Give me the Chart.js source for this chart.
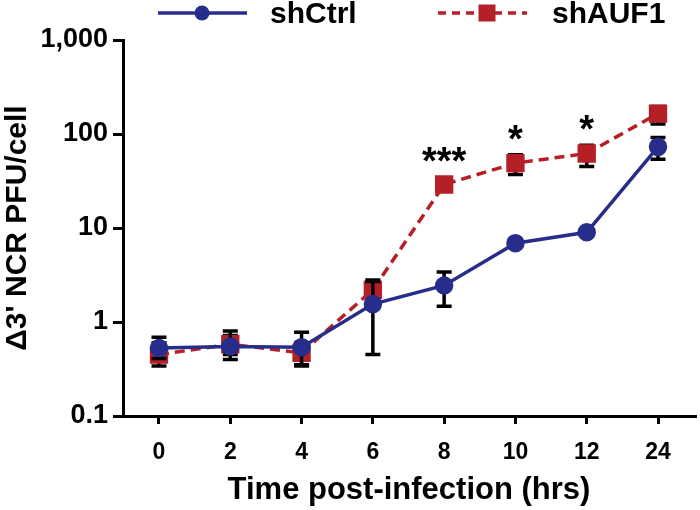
<!DOCTYPE html>
<html>
<head>
<meta charset="utf-8">
<script src="https://cdn.jsdelivr.net/npm/chart.js@4"></script>
<style>
html,body{margin:0;padding:0;background:#fff;}
#wrap{width:700px;height:510px;}
</style>
</head>
<body>
<div id="wrap"><canvas id="c" width="700" height="510"></canvas></div>
<script>
// ---- data ----
const xLabels = ["0", "2", "4", "6", "8", "10", "12", "24"];
const yTickValues = [0.1, 1, 10, 100, 1000];
const yTickLabels = ["0.1", "1", "10", "100", "1,000"];

const ctrlLabel = "shCtrl";
const ctrlValues = [0.53, 0.55, 0.54, 1.55, 2.45, 6.9, 9.0, 73];
const ctrlHigh   = [0.69, 0.80, 0.78, 2.7, 3.4, 7.4, 9.6, 92];
const ctrlLow    = [0.41, 0.40, 0.34, 0.45, 1.47, 6.4, 8.4, 54];

const aufLabel = "shAUF1";
const aufValues = [0.45, 0.58, 0.47, 2.2, 29, 49, 62, 165];
const aufHigh   = [0.60, 0.72, 0.60, 2.8, 30, 60, 76, 196];
const aufLow    = [0.34, 0.45, 0.35, 1.7, 28, 37, 45, 128];

const significance = ["", "", "", "", "***", "*", "*", ""];

// ---- styles ----
const BLUE = "#272d8a";
const RED = "#b52027";
const FONT = "'Liberation Sans', Arial, sans-serif";

const toXY = vals => vals.map((v, i) => ({x: i, y: v}));

const errorBars = {
  id: "errorBars",
  beforeDatasetDraw(chart, args) {
    const ds = chart.data.datasets[args.index];
    if (!ds.errHigh) return;
    const {ctx, scales: {x, y}} = chart;
    ctx.save();
    ctx.strokeStyle = "#000";
    ctx.lineWidth = 3.5;
    ctx.lineCap = "butt";
    const cap = 7.5;
    ds.data.forEach((p, i) => {
      const px = x.getPixelForValue(p.x);
      const yh = y.getPixelForValue(ds.errHigh[i]);
      const yl = y.getPixelForValue(ds.errLow[i]);
      ctx.beginPath();
      ctx.moveTo(px, yh); ctx.lineTo(px, yl);
      ctx.moveTo(px - cap, yh); ctx.lineTo(px + cap, yh);
      ctx.moveTo(px - cap, yl); ctx.lineTo(px + cap, yl);
      ctx.stroke();
    });
    ctx.restore();
  }
};

const sigMarks = {
  id: "sigMarks",
  afterDatasetsDraw(chart) {
    const {ctx, scales: {x, y}} = chart;
    ctx.save();
    ctx.fillStyle = "#000";
    ctx.font = "bold 38px " + FONT;
    ctx.textAlign = "center";
    ctx.textBaseline = "alphabetic";
    significance.forEach((s, i) => {
      if (!s) return;
      const px = x.getPixelForValue(i);
      const top = Math.min(y.getPixelForValue(aufHigh[i]), y.getPixelForValue(aufValues[i]) - 8);
      ctx.fillText(s, px, top - 3);
    });
    ctx.restore();
  }
};

const customLegend = {
  id: "customLegend",
  afterDraw(chart) {
    const {ctx} = chart;
    const d0 = chart.data.datasets[0];
    const d1 = chart.data.datasets[1];
    const ly = 13;
    ctx.save();
    ctx.strokeStyle = d0.borderColor; ctx.lineWidth = 3.5;
    ctx.beginPath(); ctx.moveTo(158, ly); ctx.lineTo(247, ly); ctx.stroke();
    ctx.fillStyle = d0.pointBackgroundColor;
    ctx.beginPath(); ctx.arc(202, ly, 7.5, 0, Math.PI * 2); ctx.fill();
    ctx.strokeStyle = d1.borderColor; ctx.lineWidth = 3.5;
    ctx.setLineDash([8, 6]);
    ctx.beginPath(); ctx.moveTo(438, ly); ctx.lineTo(527, ly); ctx.stroke();
    ctx.setLineDash([]);
    ctx.fillStyle = d1.pointBackgroundColor;
    ctx.fillRect(487 - 8.5, ly - 8.5, 17, 17);
    ctx.fillStyle = "#000";
    ctx.font = "bold 30px " + FONT;
    ctx.textAlign = "left";
    ctx.textBaseline = "middle";
    ctx.fillText(d0.label, 270, ly + 2);
    ctx.fillText(d1.label, 552, ly + 2);
    ctx.restore();
  }
};

new Chart(document.getElementById("c"), {
  type: "line",
  data: {
    datasets: [
      {
        label: ctrlLabel,
        data: toXY(ctrlValues),
        errHigh: ctrlHigh, errLow: ctrlLow,
        borderColor: BLUE, backgroundColor: BLUE,
        pointBackgroundColor: BLUE, pointBorderColor: BLUE,
        borderWidth: 3.5, pointRadius: 7.5, pointStyle: "circle",
        tension: 0, fill: false
      },
      {
        label: aufLabel,
        data: toXY(aufValues),
        errHigh: aufHigh, errLow: aufLow,
        borderColor: RED, backgroundColor: RED,
        pointBackgroundColor: RED, pointBorderColor: RED,
        borderWidth: 3.5, borderDash: [10, 6],
        pointRadius: 10.5, pointStyle: "rect",
        tension: 0, fill: false
      }
    ]
  },
  options: {
    responsive: false,
    animation: false,
    devicePixelRatio: 1,
    clip: false,
    layout: {autoPadding: false, padding: {top: 40, right: 5, bottom: 0, left: 0}},
    plugins: {legend: {display: false}, tooltip: {enabled: false}},
    elements: {line: {borderCapStyle: "butt"}},
    scales: {
      x: {
        type: "linear",
        min: -0.505,
        max: 7.519,
        afterBuildTicks: s => { s.ticks = xLabels.map((l, i) => ({value: i})); },
        afterFit: s => { s.height = 94; s.paddingLeft = 0; s.paddingRight = 0; },
        grid: {drawOnChartArea: false, drawTicks: true, tickLength: 8, color: "#000", lineWidth: 3},
        border: {display: true, color: "#000", width: 3},
        ticks: {
          callback: (v, i) => xLabels[i],
          color: "#000",
          font: {family: FONT, size: 23, weight: "bold"},
          padding: 15,
          maxRotation: 0,
          autoSkip: false
        },
        title: {
          display: true,
          text: "Time post-infection (hrs)",
          color: "#000",
          font: {family: FONT, size: 31, weight: "bold"},
          padding: {top: 0, bottom: 1}
        }
      },
      y: {
        type: "logarithmic",
        min: 0.1,
        max: 1000,
        afterBuildTicks: s => { s.ticks = yTickValues.map(v => ({value: v})); },
        afterFit: s => { s.width = 123; },
        grid: {drawOnChartArea: false, drawTicks: true, tickLength: 10, color: "#000", lineWidth: 3},
        border: {display: true, color: "#000", width: 3},
        ticks: {
          callback: (v, i) => yTickLabels[i],
          color: "#000",
          font: {family: FONT, size: 27, weight: "bold"},
          padding: 5,
          autoSkip: false
        },
        title: {
          display: true,
          text: "\u03943' NCR PFU/cell",
          color: "#000",
          font: {family: FONT, size: 30, weight: "bold"},
          padding: {top: 0, bottom: 0}
        }
      }
    }
  },
  plugins: [errorBars, sigMarks, customLegend]
});
</script>
</body>
</html>
